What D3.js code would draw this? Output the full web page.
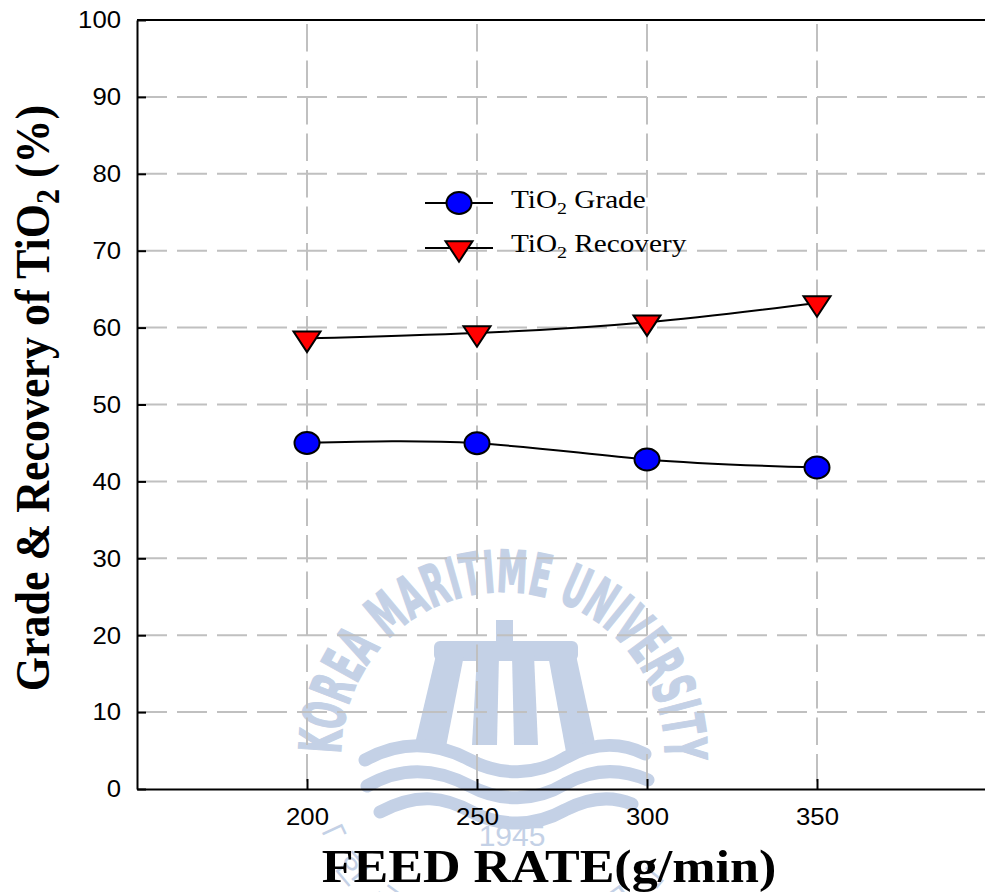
<!DOCTYPE html>
<html><head><meta charset="utf-8">
<script src="https://cdn.jsdelivr.net/npm/d3@7"></script>
<style>body{margin:0;background:#fff}svg{display:block}</style>
</head><body><svg id="c" width="985" height="892"></svg>
<script>
// ---- data ----
const feedRates = [200, 250, 300, 350];
const gradeValues = [45.0, 44.95, 42.85, 41.8];
const recoveryValues = [58.6, 59.3, 60.7, 63.2];
const xTickValues = [200, 250, 300, 350];
const yTickValues = [0, 10, 20, 30, 40, 50, 60, 70, 80, 90, 100];
const xDomain = [150, 400];
const yDomain = [0, 100];
const xTitle = "FEED RATE(g/min)";
const legendNames = ["Grade", "Recovery"];

// ---- layout ----
const L = 137, R = 987, T = 20, B = 789;
const SX = 1.12; // horizontal text stretch seen in reference
const svg = d3.select("#c");
const x = d3.scaleLinear().domain(xDomain).range([L, R]);
const y = d3.scaleLinear().domain(yDomain).range([B, T]);

// ---- watermark (decorative) ----
const WC = "#c4d1e6";
const wm = svg.append("g").attr("fill", WC).attr("stroke", "none");
const cx = 503, cy = 742;
const defs = svg.append("defs");
const rTop = 150;
defs.append("path").attr("id", "arcTop")
  .attr("d", `M${cx - rTop - 12},${cy + 12} A${rTop + 2} ${rTop + 2} 0 0 1 ${cx + rTop + 12},${cy + 12}`);
wm.append("text").attr("font-family", "DejaVu Sans").attr("font-weight", "bold")
  .attr("font-stretch", "condensed").attr("font-size", 58)
  .attr("stroke", WC).attr("stroke-width", 1.5)
  .append("textPath").attr("href", "#arcTop").attr("textLength", 515).attr("lengthAdjust", "spacingAndGlyphs")
  .text("KOREA MARITIME UNIVERSITY");
const rBot = 182;
defs.append("path").attr("id", "arcBot")
  .attr("d", `M${cx + rBot * Math.cos(Math.PI * 160 / 180)},${cy + rBot * Math.sin(Math.PI * 160 / 180)} A${rBot} ${rBot} 0 0 0 ${cx + rBot * Math.cos(Math.PI * 20 / 180)},${cy + rBot * Math.sin(Math.PI * 20 / 180)}`);
wm.append("text").attr("font-family", "Noto Sans CJK KR").attr("font-size", 34)
  .attr("dy", "0.8em")
  .append("textPath").attr("href", "#arcBot").attr("textLength", 400).attr("lengthAdjust", "spacing")
  .text("「한국해양대학교」");
// tower
wm.append("rect").attr("x", 496).attr("y", 620).attr("width", 17).attr("height", 30);
wm.append("rect").attr("x", 434).attr("y", 641).attr("width", 144).attr("height", 20).attr("rx", 6);
wm.append("path").attr("d", "M436,655 L464,655 L445,752 L413,752 Z");
wm.append("path").attr("d", "M477,655 L499,655 L497,745 L472,745 Z");
wm.append("path").attr("d", "M512,655 L534,655 L538,745 L514,745 Z");
wm.append("path").attr("d", "M548,655 L576,655 L597,752 L566,752 Z");
// waves
const wg = wm.append("g").attr("fill", "none").attr("stroke", WC).attr("stroke-width", 13).attr("stroke-linecap", "round");
wg.append("path").attr("d", "M365,760 C405,738 440,744 470,760 C500,776 535,776 565,758 C597,740 625,744 645,754");
wg.append("path").attr("d", "M367,786 C405,764 440,770 470,786 C500,802 535,802 565,784 C597,766 625,770 648,780");
wg.append("path").attr("d", "M380,812 C418,792 445,797 472,812 C500,827 535,827 565,810 C594,795 615,797 632,804");
wm.append("text").attr("x", 512).attr("y", 846).attr("text-anchor", "middle")
  .attr("font-family", "Liberation Sans, Arial").attr("font-size", 30).text("1945");

// ---- grid ----
const grid = svg.append("g").attr("stroke", "#c0c0c0").attr("stroke-width", 2).attr("fill", "none");
grid.selectAll("line.h").data(yTickValues.filter(v => v > yDomain[0] && v < yDomain[1])).join("line")
  .attr("class", "h").attr("x1", L).attr("x2", R).attr("y1", d => y(d)).attr("y2", d => y(d))
  .attr("stroke-dasharray", "30,10");
grid.selectAll("line.v").data(xTickValues).join("line")
  .attr("class", "v").attr("y1", T).attr("y2", B).attr("x1", d => x(d)).attr("x2", d => x(d))
  .attr("stroke-dasharray", "27.5,9").attr("stroke-dashoffset", 32.5);

// ---- axes ----
const yAxis = d3.axisLeft(y).tickValues(yTickValues).tickSizeInner(-9).tickSizeOuter(0).tickPadding(15);
const gy = svg.append("g").attr("transform", `translate(${L},0)`).call(yAxis);
const xAxis = d3.axisBottom(x).tickValues(xTickValues).tickSizeInner(-10).tickSizeOuter(0).tickPadding(18);
const gx = svg.append("g").attr("transform", `translate(0,${B})`).call(xAxis);
[gx, gy].forEach(g => {
  g.select(".domain").attr("stroke", "#000").attr("stroke-width", 2);
  g.selectAll(".tick line").attr("stroke", "#000").attr("stroke-width", 2);
  g.selectAll(".tick text").attr("font-family", "Liberation Sans, Arial, sans-serif")
    .attr("font-size", 24.5).attr("fill", "#000");
});
gy.selectAll(".tick text").attr("x", null)
  .attr("transform", `translate(-16,0) scale(1.05,1)`);
gx.selectAll(".tick text").attr("y", null).attr("dy", null)
  .attr("transform", `translate(0,36) scale(1.05,1)`);
// top border
svg.append("line").attr("x1", L).attr("x2", R).attr("y1", T).attr("y2", T)
  .attr("stroke", "#000").attr("stroke-width", 2);

// ---- lines ----
const line = d3.line().x(d => x(d[0])).y(d => y(d[1])).curve(d3.curveNatural);
const gradeData = feedRates.map((f, i) => [f, gradeValues[i]]);
const recData = feedRates.map((f, i) => [f, recoveryValues[i]]);
svg.append("path").datum(recData).attr("d", line).attr("fill", "none").attr("stroke", "#000").attr("stroke-width", 2);
svg.append("path").datum(gradeData).attr("d", line).attr("fill", "none").attr("stroke", "#000").attr("stroke-width", 2);

const triPath = (px, py) => `M${px - 13.5},${py - 6.8} L${px + 13.5},${py - 6.8} L${px},${py + 13.7} Z`;
svg.append("g").selectAll("path").data(recData).join("path")
  .attr("d", d => triPath(x(d[0]), y(d[1]))).attr("fill", "#ff0000").attr("stroke", "#000").attr("stroke-width", 2)
  .attr("stroke-linejoin", "miter");
svg.append("g").selectAll("ellipse").data(gradeData).join("ellipse")
  .attr("cx", d => x(d[0])).attr("cy", d => y(d[1])).attr("rx", 12.5).attr("ry", 11)
  .attr("fill", "#0000ff").attr("stroke", "#000").attr("stroke-width", 2);

// ---- legend ----
const lg = svg.append("g");
const legY = [203, 248];
legY.forEach((ly, i) => {
  lg.append("line").attr("x1", 425).attr("x2", 493).attr("y1", ly).attr("y2", ly).attr("stroke", "#000").attr("stroke-width", 2);
  if (i === 0) lg.append("ellipse").attr("cx", 459).attr("cy", ly).attr("rx", 12.5).attr("ry", 11)
    .attr("fill", "#0000ff").attr("stroke", "#000").attr("stroke-width", 2);
  else lg.append("path").attr("d", triPath(459, ly)).attr("fill", "#ff0000").attr("stroke", "#000").attr("stroke-width", 2);
  const t = lg.append("text").attr("transform", `translate(511,${ly + 5 + (i === 0 ? 0 : -1)}) scale(1.17,1)`)
    .attr("font-family", "Liberation Serif, Times New Roman, serif").attr("font-size", 25).attr("fill", "#000");
  t.append("tspan").text("TiO");
  t.append("tspan").attr("font-size", 17).attr("dy", 6).text("2");
  t.append("tspan").attr("dy", -6).text(" " + legendNames[i]);
});

// ---- titles ----
svg.append("text").attr("transform", `translate(549,882) scale(${SX},1)`).attr("text-anchor", "middle")
  .attr("font-family", "Liberation Serif, Times New Roman, serif").attr("font-weight", "bold")
  .attr("font-size", 46.5).attr("fill", "#000").text(xTitle);
const yt = svg.append("text").attr("transform", `translate(49,398) scale(1.12,1) rotate(-90)`).attr("text-anchor", "middle")
  .attr("font-family", "Liberation Serif, Times New Roman, serif").attr("font-weight", "bold")
  .attr("font-size", 44).attr("fill", "#000");
yt.append("tspan").text("Grade & Recovery of TiO");
yt.append("tspan").attr("font-size", 30).attr("dy", 9).text("2");
yt.append("tspan").attr("dy", -9).text(" (%)");
</script></body></html>
